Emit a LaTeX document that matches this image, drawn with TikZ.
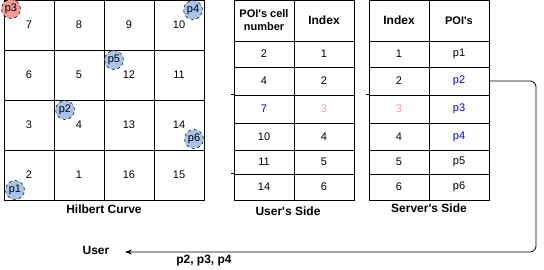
\documentclass[tikz,border=0pt]{standalone}
\usepackage{fontspec}
\setmainfont{Liberation Sans}
\usetikzlibrary{arrows.meta}
\definecolor{ptblue}{HTML}{A9C4EB}
\definecolor{ptred}{HTML}{F19C99}
\definecolor{txtblue}{HTML}{0000FF}
\definecolor{txtpink}{HTML}{F19C99}
\newcommand{\apos}{\textquotesingle}
\begin{document}
\begin{tikzpicture}[x=1pt,y=-1pt,
  hcell/.style={draw,line width=0.8pt,minimum width=50pt,minimum height=50pt,inner sep=0pt,font=\fontsize{11}{13}\selectfont},
  tcell/.style={draw,line width=0.8pt,minimum width=60pt,inner sep=0pt,font=\fontsize{11}{13}\selectfont},
  poi/.style={circle,draw,dashed,line width=0.5pt,minimum size=19pt,inner sep=0pt,fill=ptblue,font=\fontsize{11}{13}\selectfont},
  lbl/.style={font=\bfseries\fontsize{12}{14}\selectfont,inner sep=0pt},
  hdr/.style={font=\bfseries\fontsize{11}{13}\selectfont,align=center},
  conn/.style={draw,line width=0.8pt,rounded corners=6pt,-{Stealth[length=7pt,width=5pt]}}]
\useasboundingbox (0,0) rectangle (544,270);
% Hilbert grid
\foreach \n [count=\i from 0] in {7,8,9,10,6,5,12,11,3,4,13,14,2,1,16,15}{
  \pgfmathtruncatemacro\c{mod(\i,4)}
  \pgfmathtruncatemacro\r{div(\i,4)}
  \node[hcell] (h\n) at (29+50*\c,25+50*\r) {\n};
}
\node[poi,fill=ptred] (p3) at (11,9) {p3};
\node[poi] (p4) at (193,10) {p4};
\node[poi] (p5) at (114,60) {p5};
\node[poi] (p2) at (65,110) {p2};
\node[poi] (p6) at (194,139) {p6};
\node[poi] (p1) at (15,190) {p1};
\node[lbl] (hl) at (104,209) {Hilbert Curve};
% User table
\node[tcell,minimum height=41pt,hdr] (uh1) at (264,20.5) {POI\apos s cell\\number};
\node[tcell,minimum height=41pt,hdr,font=\bfseries\fontsize{12}{14}\selectfont] (uh2) at (324,20.5) {Index};
% Server table
\node[tcell,minimum height=41pt,hdr,font=\bfseries\fontsize{12}{14}\selectfont] (sh1) at (399,20.5) {Index};
\node[tcell,minimum height=41pt,hdr] (sh2) at (459,20.5) {POI\apos s};
\foreach \k/\top/\h/\ua/\ub/\sa/\sb in {
  1/41/26/2/1/1/p1,
  2/67/28/4/2/2/{\textcolor{txtblue}{p2}},
  3/95/28/{\textcolor{txtblue}{7}}/{\textcolor{txtpink}{3}}/{\textcolor{txtpink}{3}}/{\textcolor{txtblue}{p3}},
  4/123/27/10/4/4/{\textcolor{txtblue}{p4}},
  5/150/24/11/5/5/p5,
  6/174/26/14/6/6/p6}{
  \node[tcell,minimum height=\h pt] (ua\k) at (264,\top+\h/2) {\ua};
  \node[tcell,minimum height=\h pt] (ub\k) at (324,\top+\h/2) {\ub};
  \node[tcell,minimum height=\h pt] (sa\k) at (399,\top+\h/2) {\sa};
  \node[tcell,minimum height=\h pt] (sb\k) at (459,\top+\h/2) {\sb};
}
\draw[line width=0.8pt] (ua3.north west) -- ++(-3,0);
\draw[line width=0.8pt] (ua6.north west) -- ++(-3,0);
\draw[line width=0.8pt] (sa3.north west) -- ++(-3,0);
\node[lbl] (ul) at (288,211) {User\apos s Side};
\node[lbl] (sl) at (429,208) {Server\apos s Side};
% result
\node[lbl] (user) at (96,250) {User};
\coordinate (c1) at (536,81);
\coordinate (c2) at (536,252);
\coordinate (tip) at (125,252);
\draw[conn] (sb2.east) -- (c1) -- (c2) -- (tip);
\node[lbl] (res) at (204,261) {p2, p3, p4};
\end{tikzpicture}
\end{document}
